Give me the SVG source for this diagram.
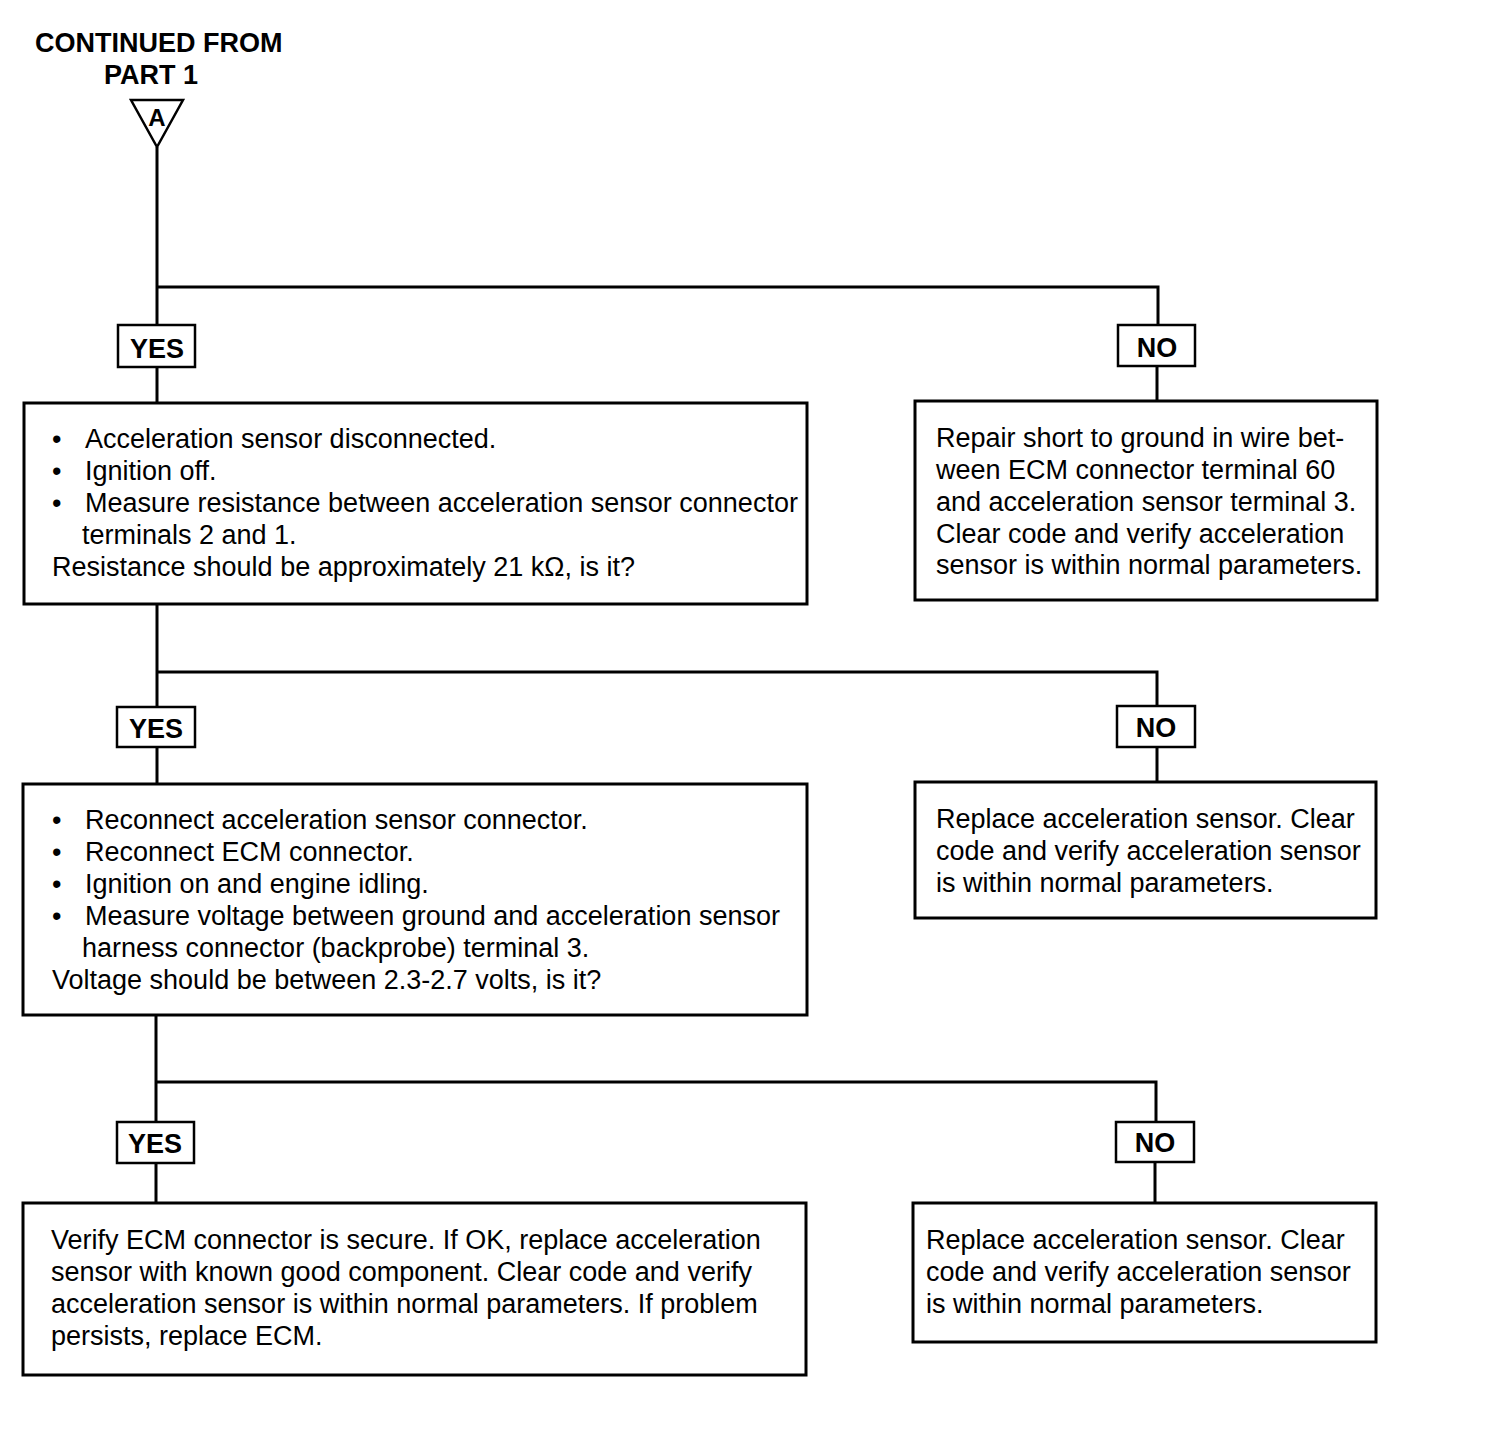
<svg xmlns="http://www.w3.org/2000/svg" width="1504" height="1446" viewBox="0 0 1504 1446">
<style>
.box{fill:#fff;stroke:#000;stroke-width:3}
.lbl{fill:#fff;stroke:#000;stroke-width:2.5}
.ln{fill:none;stroke:#000;stroke-width:3}
text{font-family:"Liberation Sans",Arial,sans-serif;font-size:27px;fill:#000}
.b{font-weight:bold;font-size:27px}
.c{text-anchor:middle}
</style>
<rect width="1504" height="1446" fill="#fff"/>
<g id="start">
<text class="b" x="35" y="52">CONTINUED FROM</text>
<text class="b c" x="151" y="84">PART 1</text>
<polygon points="131,100 183,100 157,147" fill="#fff" stroke="#000" stroke-width="2.5"/>
<text class="b c" x="157" y="126" style="font-size:24px">A</text>
</g>
<g id="connectors">
<path class="ln" d="M157,147 V325 M157,287 H1158 V325 M157,367 V403 M1157,366 V401"/>
<path class="ln" d="M157,604 V707 M157,672 H1157 V706 M157,747 V784 M1157,747 V782"/>
<path class="ln" d="M156,1015 V1122 M156,1082 H1156 V1122 M156,1163 V1203 M1155,1162 V1203"/>
</g>
<g id="yes1"><rect class="lbl" x="118" y="325" width="77" height="42"/><text class="b c" x="157" y="358">YES</text></g>
<g id="no1"><rect class="lbl" x="1118" y="325" width="77" height="41"/><text class="b c" x="1157" y="357">NO</text></g>
<g id="step1">
<rect class="box" x="24" y="403" width="783" height="201"/>
<text x="52" y="448">•</text><text x="85" y="448">Acceleration sensor disconnected.</text>
<text x="52" y="480">•</text><text x="85" y="480">Ignition off.</text>
<text x="52" y="512">•</text><text x="85" y="512">Measure resistance between acceleration sensor connector</text>
<text x="82" y="544">terminals 2 and 1.</text>
<text x="52" y="576">Resistance should be approximately 21 kΩ, is it?</text>
</g>
<g id="repair1">
<rect class="box" x="915" y="401" width="462" height="199"/>
<text x="936" y="447">Repair short to ground in wire bet-</text>
<text x="936" y="479">ween ECM connector terminal 60</text>
<text x="936" y="511">and acceleration sensor terminal 3.</text>
<text x="936" y="543">Clear code and verify acceleration</text>
<text x="936" y="574">sensor is within normal parameters.</text>
</g>
<g id="yes2"><rect class="lbl" x="117" y="707" width="78" height="40"/><text class="b c" x="156" y="738">YES</text></g>
<g id="no2"><rect class="lbl" x="1117" y="706" width="78" height="41"/><text class="b c" x="1156" y="737">NO</text></g>
<g id="step2">
<rect class="box" x="23" y="784" width="784" height="231"/>
<text x="52" y="829">•</text><text x="85" y="829">Reconnect acceleration sensor connector.</text>
<text x="52" y="861">•</text><text x="85" y="861">Reconnect ECM connector.</text>
<text x="52" y="893">•</text><text x="85" y="893">Ignition on and engine idling.</text>
<text x="52" y="925">•</text><text x="85" y="925">Measure voltage between ground and acceleration sensor</text>
<text x="82" y="957">harness connector (backprobe) terminal 3.</text>
<text x="52" y="989">Voltage should be between 2.3-2.7 volts, is it?</text>
</g>
<g id="replace1">
<rect class="box" x="915" y="782" width="461" height="136"/>
<text x="936" y="828">Replace acceleration sensor. Clear</text>
<text x="936" y="860">code and verify acceleration sensor</text>
<text x="936" y="892">is within normal parameters.</text>
</g>
<g id="yes3"><rect class="lbl" x="117" y="1122" width="77" height="41"/><text class="b c" x="155" y="1153">YES</text></g>
<g id="no3"><rect class="lbl" x="1116" y="1122" width="78" height="40"/><text class="b c" x="1155" y="1152">NO</text></g>
<g id="final">
<rect class="box" x="23" y="1203" width="783" height="172"/>
<text x="51" y="1249">Verify ECM connector is secure. If OK, replace acceleration</text>
<text x="51" y="1281">sensor with known good component. Clear code and verify</text>
<text x="51" y="1313">acceleration sensor is within normal parameters. If problem</text>
<text x="51" y="1345">persists, replace ECM.</text>
</g>
<g id="replace2">
<rect class="box" x="913" y="1203" width="463" height="139"/>
<text x="926" y="1249">Replace acceleration sensor. Clear</text>
<text x="926" y="1281">code and verify acceleration sensor</text>
<text x="926" y="1313">is within normal parameters.</text>
</g>
</svg>
